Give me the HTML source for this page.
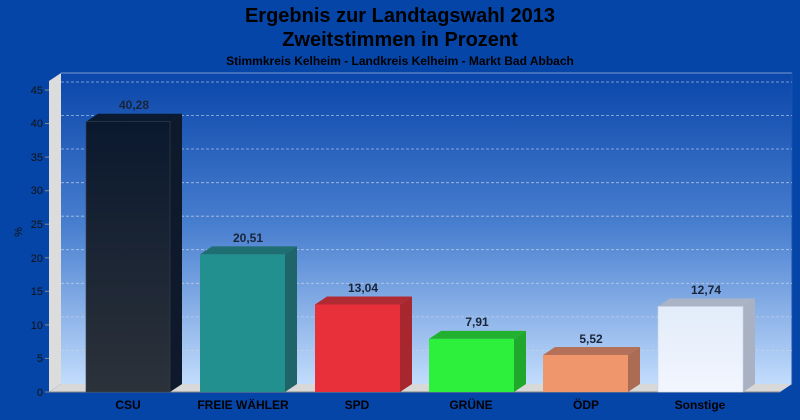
<!DOCTYPE html>
<html><head><meta charset="utf-8"><style>
body{margin:0;background:#0645a8;}
svg{display:block;font-family:"Liberation Sans",Arial,sans-serif;}
</style></head><body>
<svg width="800" height="420" xmlns="http://www.w3.org/2000/svg">
<defs>
<linearGradient id="bg" x1="0" y1="0" x2="0" y2="1">
<stop offset="0" stop-color="#0a46aa"/><stop offset="0.5" stop-color="#4a80d0"/><stop offset="1" stop-color="#c2dcfc"/></linearGradient>
<linearGradient id="csu" x1="0" y1="0" x2="0" y2="1"><stop offset="0" stop-color="#0a182e"/><stop offset="1" stop-color="#2c323a"/></linearGradient>
<linearGradient id="son" x1="0" y1="0" x2="0" y2="1"><stop offset="0" stop-color="#e2ecfa"/><stop offset="1" stop-color="#f2f6fe"/></linearGradient>
</defs>
<rect width="800" height="420" fill="#0645a8"/>
<rect x="61" y="73" width="731" height="311" fill="url(#bg)"/>
<line x1="61" y1="73" x2="792" y2="73" stroke="#7a9ad0" stroke-width="1"/>
<line x1="792" y1="73" x2="792" y2="384" stroke="#1a50b0"/>
<!-- left wall -->
<polygon points="49,81 61,73 61,384 49,392" fill="#dcdcdc"/>
<!-- floor -->
<polygon points="49,392 61,384 792,384 780,392" fill="#d8d8d8"/>
<g stroke="#c8d4ec" stroke-dasharray="3,2" stroke-width="0.8" opacity="0.8">
<line x1="61" y1="82" x2="792" y2="82"/><line x1="61" y1="115.5" x2="792" y2="115.5"/>
<line x1="61" y1="149" x2="792" y2="149"/><line x1="61" y1="182.7" x2="792" y2="182.7"/>
<line x1="61" y1="216.2" x2="792" y2="216.2"/><line x1="61" y1="249.7" x2="792" y2="249.7"/>
<line x1="61" y1="283.3" x2="792" y2="283.3"/><line x1="61" y1="316.9" x2="792" y2="316.9"/>
<line x1="61" y1="350.5" x2="792" y2="350.5"/>
</g>
<line x1="49" y1="392" x2="780" y2="392" stroke="#888"/>
<g font-size="11" fill="#111" text-anchor="end">
<text x="43" y="396">0</text><text x="43" y="362">5</text><text x="43" y="329">10</text>
<text x="43" y="295">15</text><text x="43" y="262">20</text><text x="43" y="228">25</text>
<text x="43" y="194">30</text><text x="43" y="161">35</text><text x="43" y="127">40</text><text x="43" y="94">45</text>
</g>
<g stroke="#888"><line x1="45" y1="392" x2="49" y2="392"/><line x1="45" y1="358.4" x2="49" y2="358.4"/><line x1="45" y1="324.9" x2="49" y2="324.9"/><line x1="45" y1="291.3" x2="49" y2="291.3"/><line x1="45" y1="257.8" x2="49" y2="257.8"/><line x1="45" y1="224.2" x2="49" y2="224.2"/><line x1="45" y1="190.7" x2="49" y2="190.7"/><line x1="45" y1="157.1" x2="49" y2="157.1"/><line x1="45" y1="123.5" x2="49" y2="123.5"/><line x1="45" y1="90" x2="49" y2="90"/></g>
<text x="22" y="232" font-size="11" fill="#111" transform="rotate(-90 22 232)" text-anchor="middle">%</text>
<!-- bars -->
<g>
<polygon points="86,121.7 98,113.7 182,113.7 170,121.7" fill="#0a1a30"/>
<polygon points="170,121.7 182,113.7 182,384 170,392" fill="#0e1a2c"/>
<rect x="86" y="121.7" width="84" height="270.3" fill="url(#csu)" stroke="#3a4250" stroke-width="0.6"/>

<polygon points="200,254.4 212,246.4 297,246.4 285,254.4" fill="#1f6e72"/>
<polygon points="285,254.4 297,246.4 297,384 285,392" fill="#1e6468"/>
<rect x="200" y="254.4" width="85" height="137.6" fill="#21908f"/>

<polygon points="315,304.5 327,296.5 412,296.5 400,304.5" fill="#b02a34"/>
<polygon points="400,304.5 412,296.5 412,384 400,392" fill="#a8262e"/>
<rect x="315" y="304.5" width="85" height="87.5" fill="#e8303a"/>

<polygon points="429,338.9 441,330.9 526,330.9 514,338.9" fill="#22b030"/>
<polygon points="514,338.9 526,330.9 526,384 514,392" fill="#20a82c"/>
<rect x="429" y="338.9" width="85" height="53.1" fill="#2cf03c"/>

<polygon points="543,355 555,347 640,347 628,355" fill="#b47058"/>
<polygon points="628,355 640,347 640,384 628,392" fill="#ac6c54"/>
<rect x="543" y="355" width="85" height="37" fill="#f0966c"/>

<polygon points="658,306.5 670,298.5 755,298.5 743,306.5" fill="#aab4c4"/>
<polygon points="743,306.5 755,298.5 755,384 743,392" fill="#a8b2c2"/>
<rect x="658" y="306.5" width="85" height="85.5" fill="url(#son)" stroke="#c8d4e8" stroke-width="0.6"/>
</g>
<g font-size="12" font-weight="bold" fill="#1a2438" text-anchor="middle">
<text x="134" y="109">40,28</text><text x="248" y="242">20,51</text><text x="363" y="292">13,04</text>
<text x="477" y="326">7,91</text><text x="591" y="343">5,52</text><text x="706" y="294">12,74</text>
</g>
<g font-size="12" font-weight="bold" fill="#000" text-anchor="middle">
<text x="128" y="409">CSU</text><text x="243" y="409">FREIE WÄHLER</text><text x="357" y="409">SPD</text>
<text x="471" y="409">GRÜNE</text><text x="586" y="409">ÖDP</text><text x="700" y="409">Sonstige</text>
</g>
<g font-weight="bold" fill="#000" text-anchor="middle">
<text x="400" y="22" font-size="20">Ergebnis zur Landtagswahl 2013</text>
<text x="400" y="46" font-size="20">Zweitstimmen in Prozent</text>
<text x="400" y="65" font-size="12">Stimmkreis Kelheim - Landkreis Kelheim - Markt Bad Abbach</text>
</g>
</svg>
</body></html>
